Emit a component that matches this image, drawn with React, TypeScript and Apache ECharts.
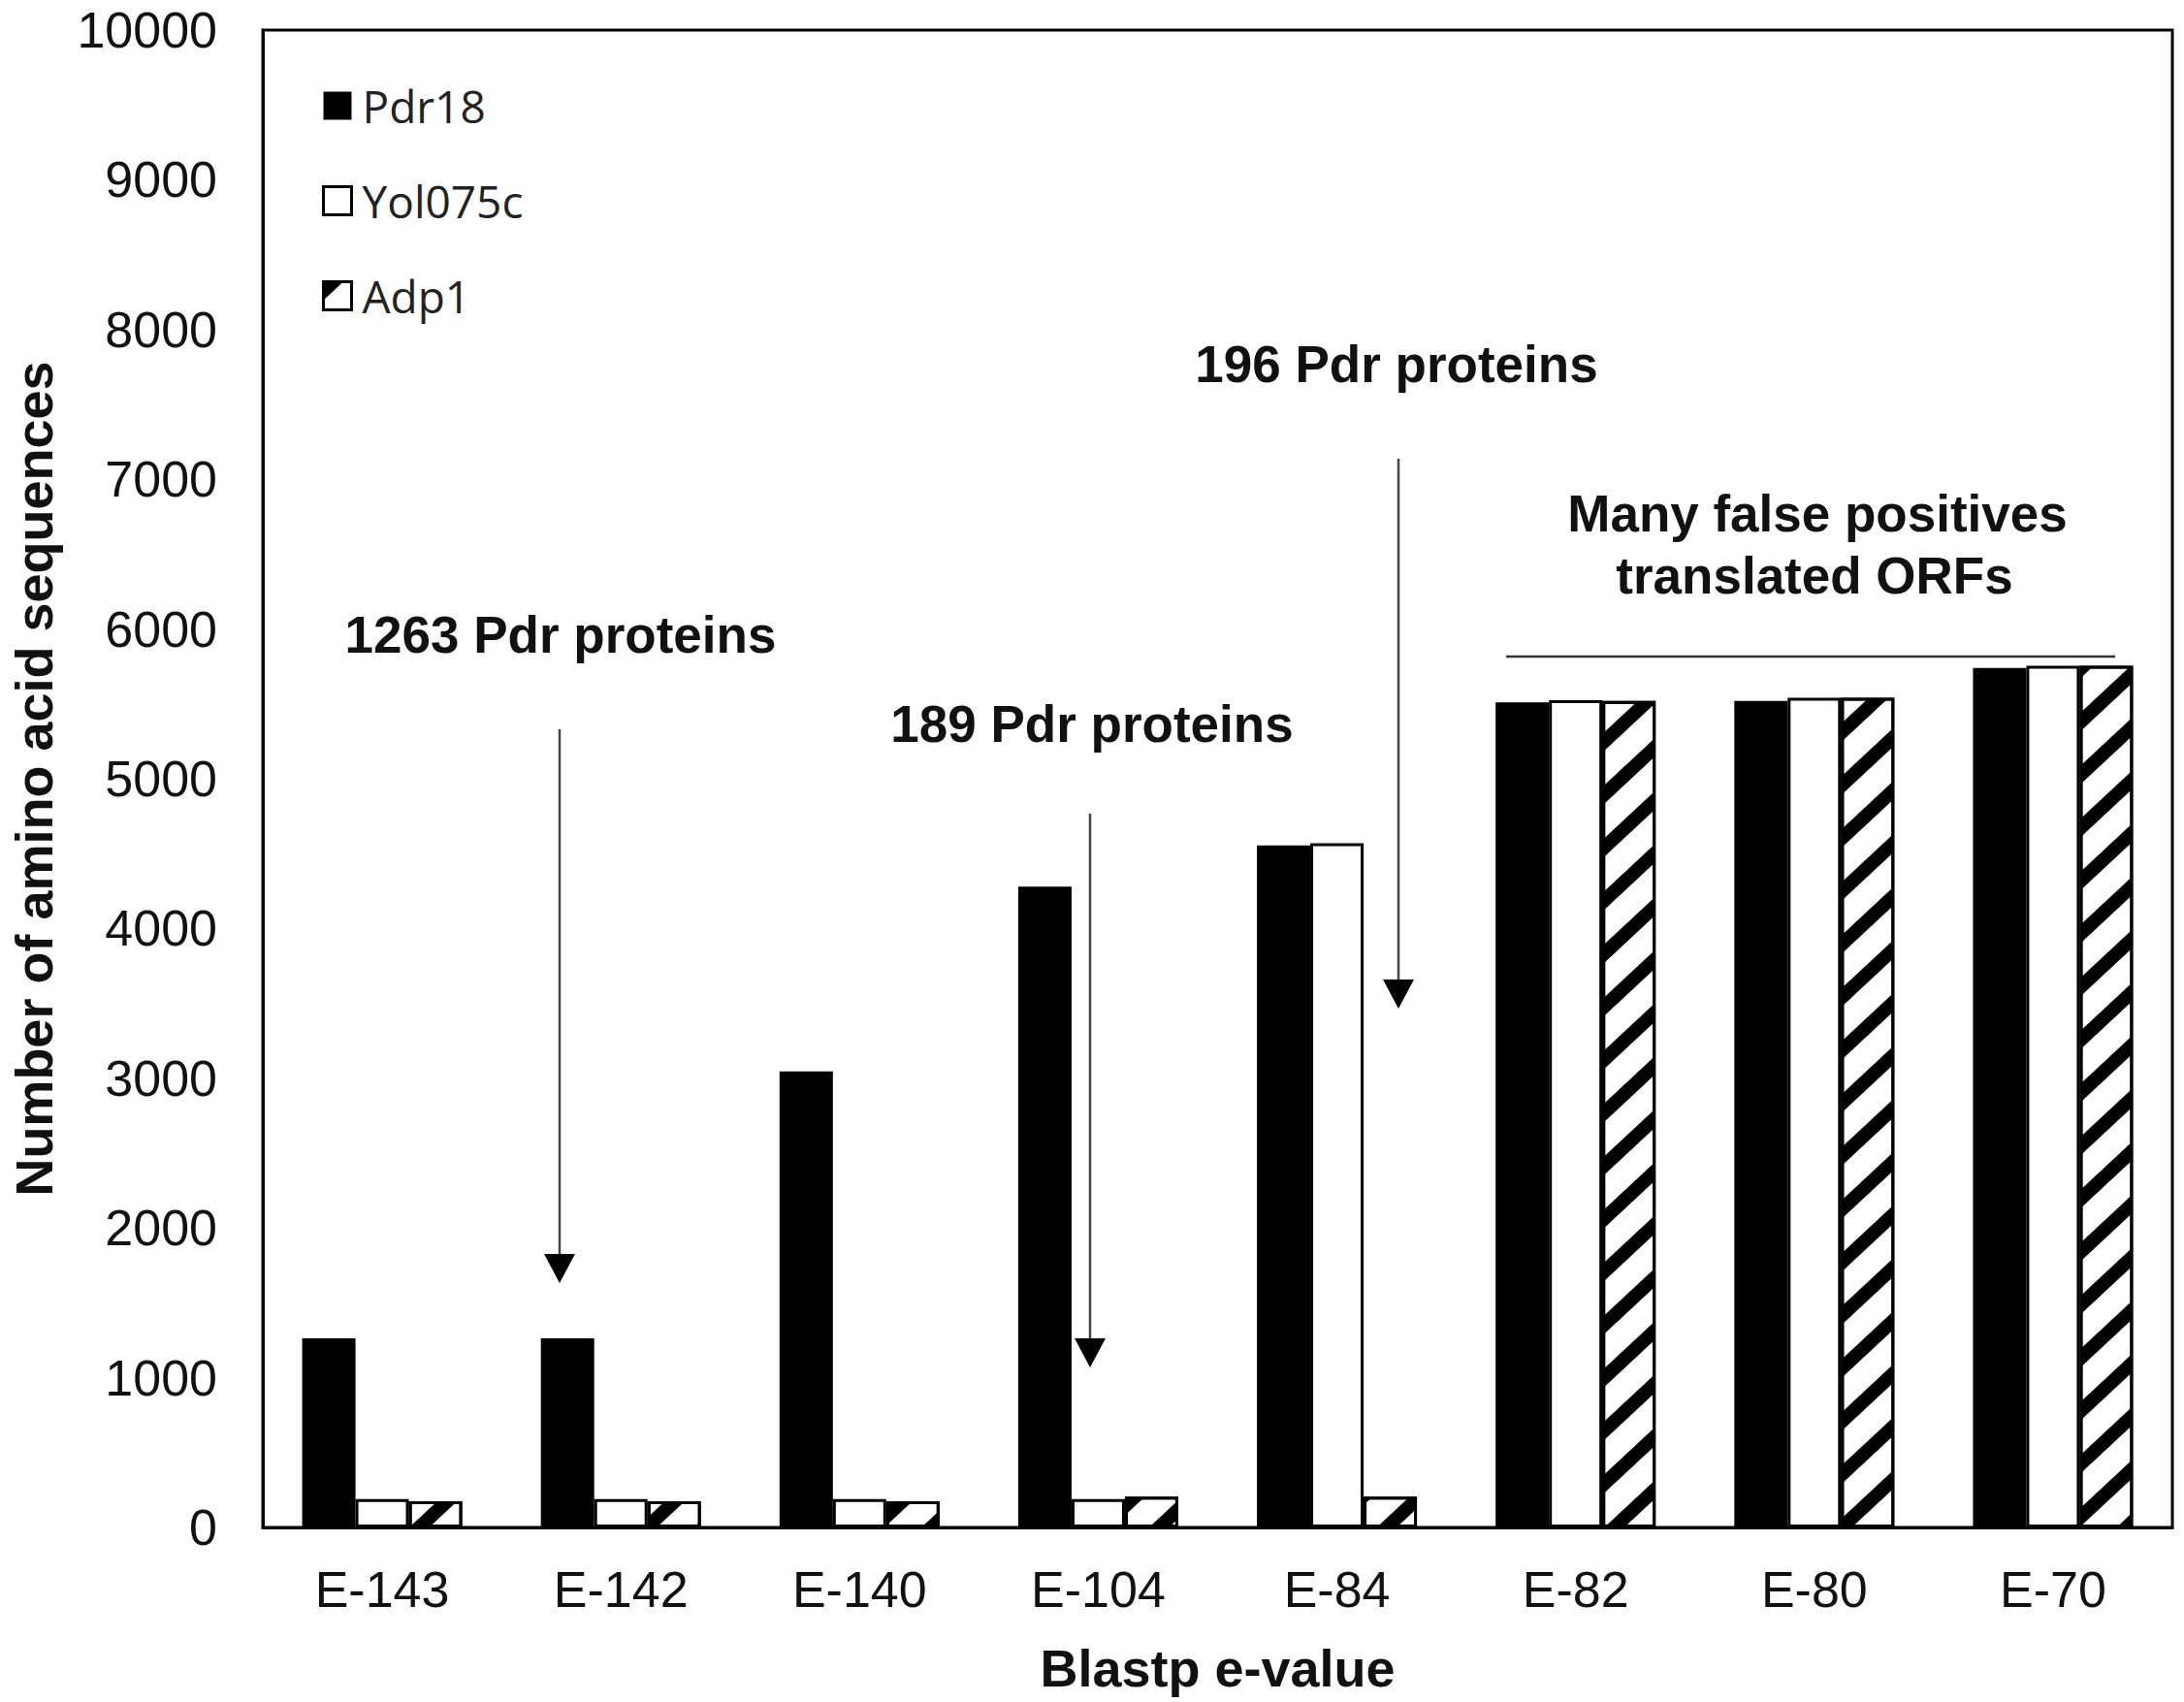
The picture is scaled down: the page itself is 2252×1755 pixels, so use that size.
import React, { useEffect, useRef } from "react";
import * as echarts from "echarts";

const categories = ["E-143", "E-142", "E-140", "E-104", "E-84", "E-82", "E-80", "E-70"];
const pdr18 = [1263, 1263, 3045, 4280, 4555, 5510, 5520, 5740];
const yol075c = [190, 190, 190, 190, 4570, 5525, 5540, 5755];
const adp1 = [175, 175, 175, 205, 205, 5520, 5540, 5755];
const yTicks = { min: 0, max: 10000, interval: 1000 };

const AX_FONT = "'Liberation Sans', Arial, sans-serif";

export default function App() {
  const ref = useRef<HTMLDivElement>(null);
  useEffect(() => {
    if (!ref.current) return;
    const chart = echarts.init(ref.current, null, { renderer: "svg" });
    const decal = {
      symbol: "rect",
      symbolSize: 1,
      dashArrayX: [1, 0],
      dashArrayY: [14, 26],
      rotation: -0.75,
      color: "#000",
      backgroundColor: "#fff",
    };
    const annText = (text: string, x: number, y: number) => ({
      type: "text",
      x,
      y,
      style: {
        text,
        fill: "#111",
        font: `bold 53px ${AX_FONT}`,
        align: "center",
        verticalAlign: "middle",
      },
    });
    const arrow = (x: number, y1: number, y2: number) => [
      { type: "line", shape: { x1: x, y1, x2: x, y2: y2 - 20 }, style: { stroke: "#444", lineWidth: 2.5 } },
      {
        type: "polygon",
        shape: { points: [[x - 16, y2 - 30], [x + 16, y2 - 30], [x, y2]] },
        style: { fill: "#000" },
      },
    ];
    chart.setOption({
      animation: false,
      backgroundColor: "#fff",
      grid: {
        left: 268,
        right: 12,
        top: 31,
        bottom: 180,
        show: true,
        borderColor: "#000",
        borderWidth: 3,
        backgroundColor: "transparent",
      },
      legend: {
        orient: "vertical",
        left: 327,
        top: 81,
        itemWidth: 29,
        itemHeight: 29,
        itemGap: 52,
        icon: "rect",
        textStyle: {
          fontFamily: "'Open Sans', sans-serif",
          fontSize: 46,
          color: "#222",
          padding: [0, 0, 0, 6],
        },
        data: [
          { name: "Pdr18", itemStyle: { color: "#000", borderColor: "#000", borderWidth: 0 } },
          { name: "Yol075c", itemStyle: { color: "#fff", borderColor: "#000", borderWidth: 3 } },
          { name: "Adp1", itemStyle: { color: "#fff", borderColor: "#000", borderWidth: 3, decal } },
        ],
      },
      xAxis: {
        type: "category",
        data: categories,
        name: "Blastp e-value",
        nameLocation: "middle",
        nameGap: 118,
        nameTextStyle: { fontFamily: AX_FONT, fontWeight: "bold", fontSize: 54, color: "#111" },
        axisLine: { show: true, lineStyle: { color: "#000", width: 3 } },
        axisTick: { show: false },
        axisLabel: { fontFamily: AX_FONT, fontSize: 52, color: "#111", margin: 38 },
      },
      yAxis: {
        type: "value",
        min: yTicks.min,
        max: yTicks.max,
        interval: yTicks.interval,
        name: "Number of amino acid sequences",
        nameLocation: "middle",
        nameGap: 209,
        nameTextStyle: { fontFamily: AX_FONT, fontWeight: "bold", fontSize: 54, color: "#111" },
        axisLine: { show: true, lineStyle: { color: "#000", width: 3 } },
        axisTick: { show: false },
        splitLine: { show: false },
        axisLabel: {
          fontFamily: AX_FONT,
          fontSize: 52,
          color: "#111",
          margin: 47,
          formatter: (v: number) => String(v),
        },
      },
      series: [
        {
          name: "Pdr18",
          type: "bar",
          data: pdr18,
          barWidth: 55,
          barGap: "0%",
          itemStyle: { color: "#000", borderColor: "#000", borderWidth: 2 },
        },
        {
          name: "Yol075c",
          type: "bar",
          data: yol075c,
          barWidth: 55,
          barGap: "0%",
          itemStyle: { color: "#fff", borderColor: "#000", borderWidth: 3 },
        },
        {
          name: "Adp1",
          type: "bar",
          data: adp1,
          barWidth: 55,
          barGap: "0%",
          itemStyle: { color: "#fff", borderColor: "#000", borderWidth: 3, decal },
        },
      ],
      graphic: [
        annText("1263 Pdr proteins", 578, 654),
        annText("189 Pdr proteins", 1126, 746),
        annText("196 Pdr proteins", 1440, 375),
        annText("Many false positives", 1874, 529),
        annText("translated ORFs", 1871, 593),
        ...arrow(577, 752, 1323),
        ...arrow(1124, 839, 1410),
        ...arrow(1442, 473, 1040),
        { type: "line", shape: { x1: 1553, y1: 677, x2: 2181, y2: 677 }, style: { stroke: "#333", lineWidth: 2.5 } },
      ],
    });
    return () => chart.dispose();
  }, []);
  return (
    <div
      ref={ref}
      style={{ position: "absolute", left: 0, top: 0, width: 2252, height: 1755, background: "#fff" }}
    />
  );
}
